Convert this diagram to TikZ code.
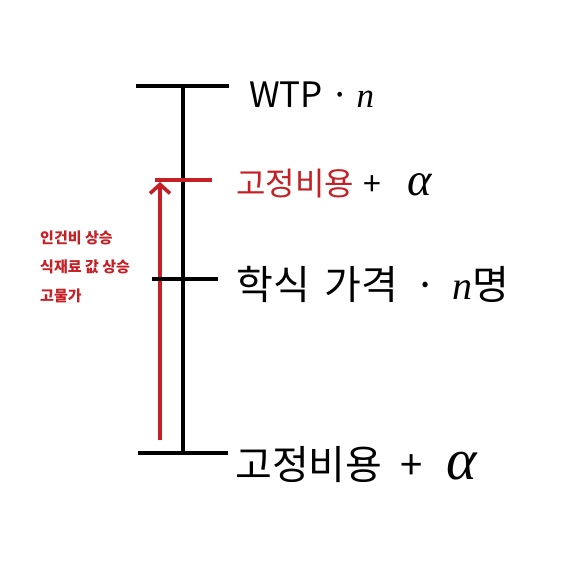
\documentclass[tikz,border=0pt]{standalone}
\usepackage{fontspec}
\usepackage{graphicx}
\setmainfont{Noto Sans CJK KR}
\newfontfamily\kr{Noto Sans CJK KR}
\newfontfamily\lat{Liberation Serif}
\usetikzlibrary{arrows.meta}
\definecolor{myred}{RGB}{196,32,38}
\newcommand{\vn}{{\lat\itshape n}}
\newcommand{\va}{\scalebox{1.45}{\lat\itshape α}}
\tikzset{
  bar/.style={line width=3.6pt, black},
  redbar/.style={line width=3.6pt, myred},
  lbl/.style={anchor=west, inner sep=0pt, font=\kr\fontsize{34}{40}\selectfont},
  note/.style={anchor=west, inner sep=0pt, text=myred, font=\kr\bfseries\fontsize{15}{17}\selectfont},
}
\begin{document}
\begin{tikzpicture}[x=1pt,y=-1pt]
\useasboundingbox (0,0) rectangle (575,567);
% axis
\coordinate (ttopL) at (136,86); \coordinate (ttopR) at (229,86);
\coordinate (tbotL) at (138,453); \coordinate (tbotR) at (228,453);
\coordinate (axtop) at (183,86); \coordinate (axbot) at (183,453);
\coordinate (tmidL) at (152,279); \coordinate (tmidR) at (218,279);
\coordinate (tredL) at (155,180); \coordinate (tredR) at (212,180);
\coordinate (arS) at (160,440); \coordinate (arE) at (160,182);
\draw[bar] (axtop) -- (axbot);
\draw[bar] (ttopL) -- (ttopR);
\draw[bar] (tbotL) -- (tbotR);
\draw[redbar, -{Straight Barb[length=9pt,width=20pt,line width=3.6pt]}] (arS) -- (arE);
\draw[bar] (tmidL) -- (tmidR);
\draw[redbar] (tredL) -- (tredR);
% labels
\node[lbl, font=\kr\fontsize{35}{40}\selectfont] (wtp) at (249,95) {WTP\hspace{7pt}·\hspace{7pt}\vn};
\node[lbl, font=\kr\fontsize{32}{36}\selectfont] (fix1) at (236,184) {\textcolor{myred}{고정비용}\hspace{10pt}+\hspace{26pt}\va};
\node[lbl, font=\kr\fontsize{40}{46}\selectfont] (price) at (236,284) {학식\hspace{6pt} 가격\hspace{16pt}·\hspace{16pt}\vn{}명};
\node[lbl, font=\kr\fontsize{40}{46}\selectfont] (fix2) at (235,465) {고정비용\hspace{18pt}+\hspace{24pt}\va};
% red notes
\node[note] (n1) at (40,238) {인건비 상승};
\node[note] (n2) at (40,267) {식재료 값 상승};
\node[note] (n3) at (40,296) {고물가};
\end{tikzpicture}
\end{document}
